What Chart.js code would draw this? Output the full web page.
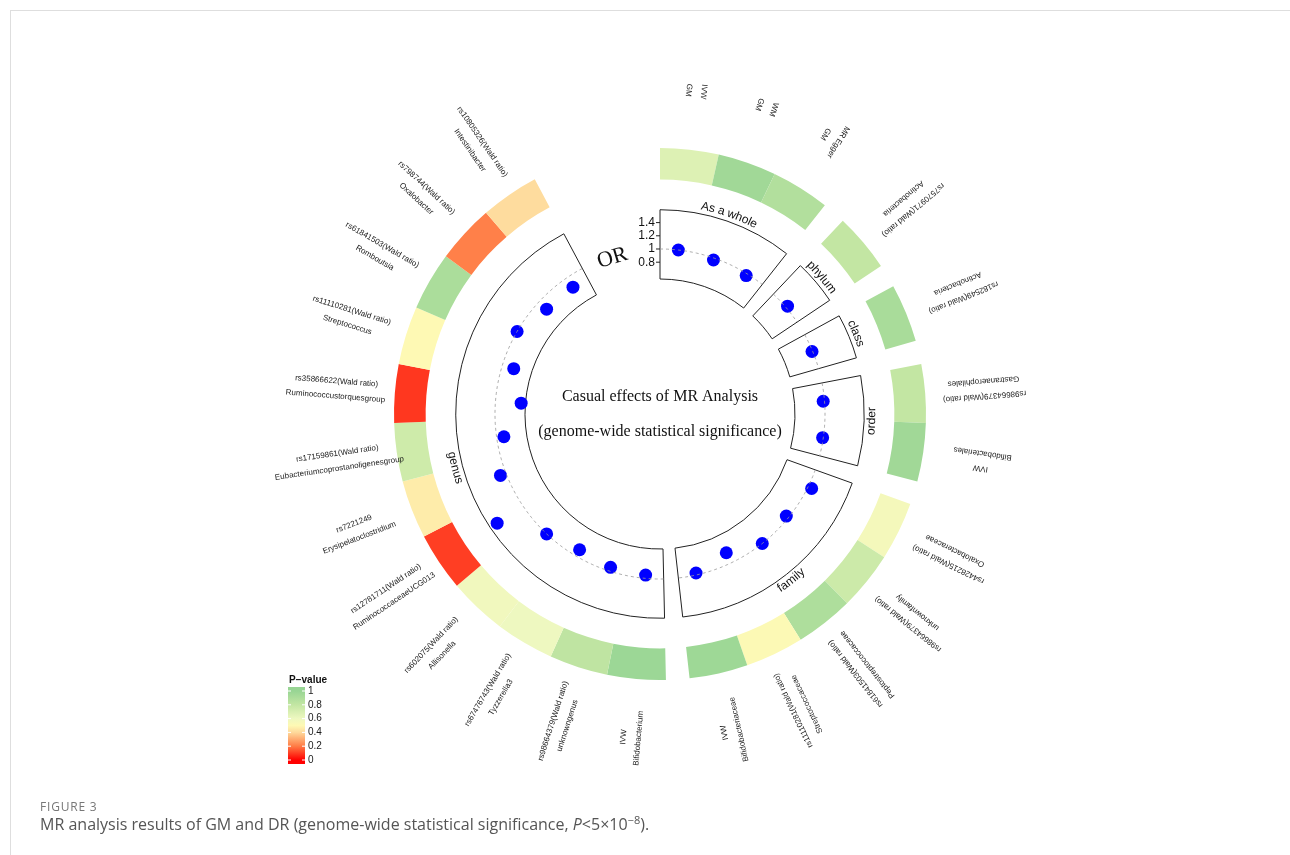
<!DOCTYPE html>
<html>
<head>
<meta charset="utf-8">
<script src="https://cdn.jsdelivr.net/npm/chart.js@4.4.1/dist/chart.umd.min.js"></script>
<style>
  body { margin: 0; background: #fff; }
  #wrap { position: relative; width: 1290px; height: 855px; overflow: hidden; background: #fff; }
  #frame { position: absolute; left: 10px; top: 10px; width: 1300px; height: 900px; border: 1px solid #dedede; }
  #wrap canvas { position: absolute; left: 0; top: 0; }
  #fig { position: absolute; left: 40px; top: 798px; font: 12px "Open Sans", sans-serif; color: #777; letter-spacing: 0.8px; }
  #cap { position: absolute; left: 40px; top: 812px; font: 16px "Open Sans", sans-serif; color: #555; }
</style>
</head>
<body>
<div id="wrap">
  <div id="frame"></div>
  <canvas id="ring" width="1290" height="855"></canvas>
  <canvas id="track" width="1290" height="855"></canvas>
  <div id="fig">FIGURE 3</div>
  <div id="cap">MR analysis results of GM and DR (genome-wide statistical significance, <i>P</i>&lt;5×10<sup style="font-size:11px">−8</sup>).</div>
</div>
<script>
// groups, clockwise from 12 o'clock
var groupNames = ['As a whole', 'phylum', 'class', 'order', 'family', 'genus'];
var groupSizes = [3, 1, 1, 2, 5, 12];

// one entry per item, clockwise
var methodLabels = [
  'IVW', 'WM', 'MR Egger',
  'rs7570971(Wald ratio)',
  'rs182549(Wald ratio)',
  'rs98664379(Wald ratio)', 'IVW',
  'rs4428215(Wald ratio)', 'rs98664379(Wald ratio)', 'rs61841503(Wald ratio)', 'rs11110281(Wald ratio)', 'IVW',
  'IVW', 'rs98664379(Wald ratio)', 'rs67476743(Wald ratio)', 'rs602075(Wald ratio)', 'rs12781711(Wald ratio)',
  'rs7221249', 'rs17159861(Wald ratio)', 'rs35866622(Wald ratio)', 'rs11110281(Wald ratio)',
  'rs61841503(Wald ratio)', 'rs798744(Wald ratio)', 'rs10805326(Wald ratio)'
];
var taxonLabels = [
  'GM', 'GM', 'GM',
  'Actinobacteria',
  'Actinobacteria',
  'Gastranaerophilales', 'Bifidobacteriales',
  'Oxalobacteraceae', 'unknownfamily', 'Peptostreptococcaceae', 'Streptococcaceae', 'Bifidobacteriaceae',
  'Bifidobacterium', 'unknowngenus', 'Tyzzerella3', 'Allisonella', 'RuminococcaceaeUCG013',
  'Erysipelatoclostridium', 'Eubacteriumcoprostanoligenesgroup', 'Ruminococcustorquesgroup', 'Streptococcus',
  'Romboutsia', 'Oxalobacter', 'Intestinibacter'
];
var orValues = [
  1.00, 0.97, 0.97,
  1.03,
  0.99,
  0.98, 0.99,
  1.06, 0.96, 1.00, 0.83, 0.97,
  0.95, 0.94, 0.89, 1.00, 1.47, 1.09, 0.89, 0.61, 0.82, 1.00, 0.84, 0.83
];
var pValues = [
  0.68, 0.96, 0.88,
  0.80,
  0.92,
  0.80, 0.96,
  0.56, 0.76, 0.90, 0.51, 0.97,
  0.98, 0.82, 0.60, 0.58, 0.10, 0.46, 0.75, 0.09, 0.50, 0.91, 0.21, 0.41
];
var orTicks = [0.8, 1, 1.2, 1.4];
var pTicks = [0, 0.2, 0.4, 0.6, 0.8, 1];

// p-value colour scale
var pStops = [0, 0.2, 0.4, 0.5, 0.6, 0.8, 1];
var pStopColors = ['#ff0000', '#ff7b45', '#fed99b', '#fef9b4', '#eef8c0', '#c3e6a3', '#98d594'];

function hexRgb(h) {
  return [parseInt(h.substr(1, 2), 16), parseInt(h.substr(3, 2), 16), parseInt(h.substr(5, 2), 16)];
}
function pColor(p) {
  for (var i = 1; i < pStops.length; i++) {
    if (p <= pStops[i]) {
      var t = (p - pStops[i - 1]) / (pStops[i] - pStops[i - 1]);
      var a = hexRgb(pStopColors[i - 1]), b = hexRgb(pStopColors[i]);
      return 'rgb(' + a.map(function (v, j) { return Math.round(v + (b[j] - v) * t); }).join(',') + ')';
    }
  }
  return pStopColors[pStops.length - 1];
}

// angular layout in slots: item = 10 slots, gap between groups = 4 slots
var ITEM = 10, GAP = 4, SLOTS = 282;
var itemStart = [], groupStart = [], groupEnd = [];
var s = 0;
groupSizes.forEach(function (n) {
  groupStart.push(s);
  for (var i = 0; i < n; i++) { itemStart.push(s); s += ITEM; }
  groupEnd.push(s);
  s += GAP;
});

var ringData = [], ringColors = [], panelData = [], panelBorders = [];
var idx = 0;
groupSizes.forEach(function (n, g) {
  for (var i = 0; i < n; i++) {
    ringData.push(ITEM);
    ringColors.push(pColor(pValues[idx++]));
  }
  var gap = g < groupSizes.length - 1 ? GAP : SLOTS - groupEnd[g];
  ringData.push(gap);
  ringColors.push('rgba(0,0,0,0)');
  panelData.push(n * ITEM, gap);
  panelBorders.push('#222', 'rgba(0,0,0,0)');
});

var pad = {left: 394, right: 364, top: 148, bottom: 175};

new Chart(document.getElementById('ring'), {
  type: 'doughnut',
  data: {
    datasets: [
      {data: ringData, backgroundColor: ringColors, borderWidth: 0, weight: 31.5},
      {data: [SLOTS], backgroundColor: 'rgba(0,0,0,0)', borderWidth: 0, weight: 30},
      {data: panelData, backgroundColor: 'rgba(0,0,0,0)', borderColor: panelBorders, borderWidth: 1,
       borderJoinStyle: 'miter', weight: 69}
    ]
  },
  options: {
    responsive: false,
    animation: false,
    events: [],
    cutout: 135,
    rotation: 0,
    layout: {padding: pad},
    plugins: {legend: {display: false}, tooltip: {enabled: false}}
  }
});

var slotLabels = [], dotData = [], refData = [];
for (var i = 0; i < SLOTS; i++) { slotLabels.push(''); dotData.push(null); refData.push(null); }
itemStart.forEach(function (st, i) { dotData[st + ITEM / 2] = orValues[i]; });
groupStart.forEach(function (st, g) {
  for (var i = st; i <= groupEnd[g]; i++) refData[i] = 1;
});

var labelPlugin = {
  id: 'mrLabels',
  afterDatasetsDraw: function (chart) {
    var ctx = chart.ctx, sc = chart.scales.r;
    var cx = sc.xCenter, cy = sc.yCenter;
    ctx.save();

    // outer item labels, reading towards the centre
    ctx.fillStyle = '#1a1a1a';
    ctx.font = '8px "Liberation Sans", Arial, sans-serif';
    ctx.textAlign = 'center';
    ctx.textBaseline = 'middle';
    itemStart.forEach(function (st, i) {
      var p = sc.getPointPosition(st + ITEM / 2, 325);
      ctx.save();
      ctx.translate(p.x, p.y);
      ctx.rotate(p.angle + Math.PI);
      ctx.fillText(methodLabels[i], 0, -7.5);
      ctx.fillText(taxonLabels[i], 0, 7.5);
      ctx.restore();
    });

    // group names bent along the panels
    ctx.font = '12px "Liberation Sans", Arial, sans-serif';
    ctx.fillStyle = '#111';
    groupNames.forEach(function (name, g) {
      var c = sc.getPointPosition((groupStart[g] + groupEnd[g]) / 2, 212);
      var ang = c.angle, r = 212;
      var flip = Math.sin(ang) > 0;
      var w = ctx.measureText(name).width, pos = 0;
      for (var k = 0; k < name.length; k++) {
        var ch = name[k], cw = ctx.measureText(ch).width;
        var off = (pos + cw / 2 - w / 2) / r;
        var a = flip ? ang - off : ang + off;
        ctx.save();
        ctx.translate(cx + r * Math.cos(a), cy + r * Math.sin(a));
        ctx.rotate(flip ? a - Math.PI / 2 : a + Math.PI / 2);
        ctx.fillText(ch, 0, 0);
        ctx.restore();
        pos += cw;
      }
    });

    // OR axis
    ctx.strokeStyle = '#222';
    ctx.lineWidth = 1;
    ctx.textAlign = 'right';
    ctx.font = '12px "Liberation Sans", Arial, sans-serif';
    orTicks.forEach(function (v) {
      var y = cy - sc.getDistanceFromCenterForValue(v);
      ctx.beginPath();
      ctx.moveTo(cx - 4, y);
      ctx.lineTo(cx, y);
      ctx.stroke();
      ctx.fillText(String(v), cx - 5, y);
    });

    var o = sc.getPointPosition(268.7, sc.getDistanceFromCenterForValue(1) - 2);
    ctx.save();
    ctx.translate(o.x, o.y);
    ctx.rotate(o.angle + Math.PI / 2);
    ctx.textAlign = 'center';
    ctx.font = '22px "Liberation Serif", "Times New Roman", serif';
    ctx.fillText('OR', 0, 0);
    ctx.restore();

    // centre title
    ctx.textAlign = 'center';
    ctx.font = '16px "Liberation Serif", "Times New Roman", serif';
    ctx.fillText('Casual effects of MR Analysis', cx, cy - 17);
    ctx.fillText('(genome-wide statistical significance)', cx, cy + 18);

    // P-value colour bar
    var bx = 288, bw = 17, top = 687, bot = 764, t1 = 691, t0 = 760;
    ctx.textAlign = 'left';
    ctx.font = 'bold 10px "Liberation Sans", Arial, sans-serif';
    ctx.fillText('P\u2212value', 289, 680);
    var grad = ctx.createLinearGradient(0, t0, 0, t1);
    pStops.forEach(function (p, i) { grad.addColorStop(p, pStopColors[i]); });
    ctx.fillStyle = grad;
    ctx.fillRect(bx, top, bw, bot - top);
    ctx.font = '10px "Liberation Sans", Arial, sans-serif';
    pTicks.forEach(function (p) {
      var y = t0 - p * (t0 - t1);
      ctx.strokeStyle = '#fff';
      ctx.beginPath();
      ctx.moveTo(bx, y); ctx.lineTo(bx + 3, y);
      ctx.moveTo(bx + bw - 3, y); ctx.lineTo(bx + bw, y);
      ctx.stroke();
      ctx.fillStyle = '#1a1a1a';
      ctx.fillText(String(p), bx + bw + 3, y);
    });
    ctx.restore();
  }
};

new Chart(document.getElementById('track'), {
  type: 'radar',
  data: {
    labels: slotLabels,
    datasets: [
      {data: refData, borderColor: '#9a9a9a', borderWidth: 0.8, borderDash: [3, 3],
       pointRadius: 0, fill: false, spanGaps: false},
      {data: dotData, showLine: false, pointRadius: 6.5, pointBackgroundColor: '#0000ff',
       pointBorderWidth: 0, spanGaps: false}
    ]
  },
  options: {
    responsive: false,
    animation: false,
    events: [],
    layout: {padding: pad},
    elements: {line: {tension: 0}},
    scales: {
      r: {
        min: -1.5,
        max: 2.53,
        startAngle: 0,
        grid: {display: false},
        angleLines: {display: false},
        pointLabels: {display: false},
        ticks: {display: false}
      }
    },
    plugins: {legend: {display: false}, tooltip: {enabled: false}}
  },
  plugins: [labelPlugin]
});
</script>
</body>
</html>
